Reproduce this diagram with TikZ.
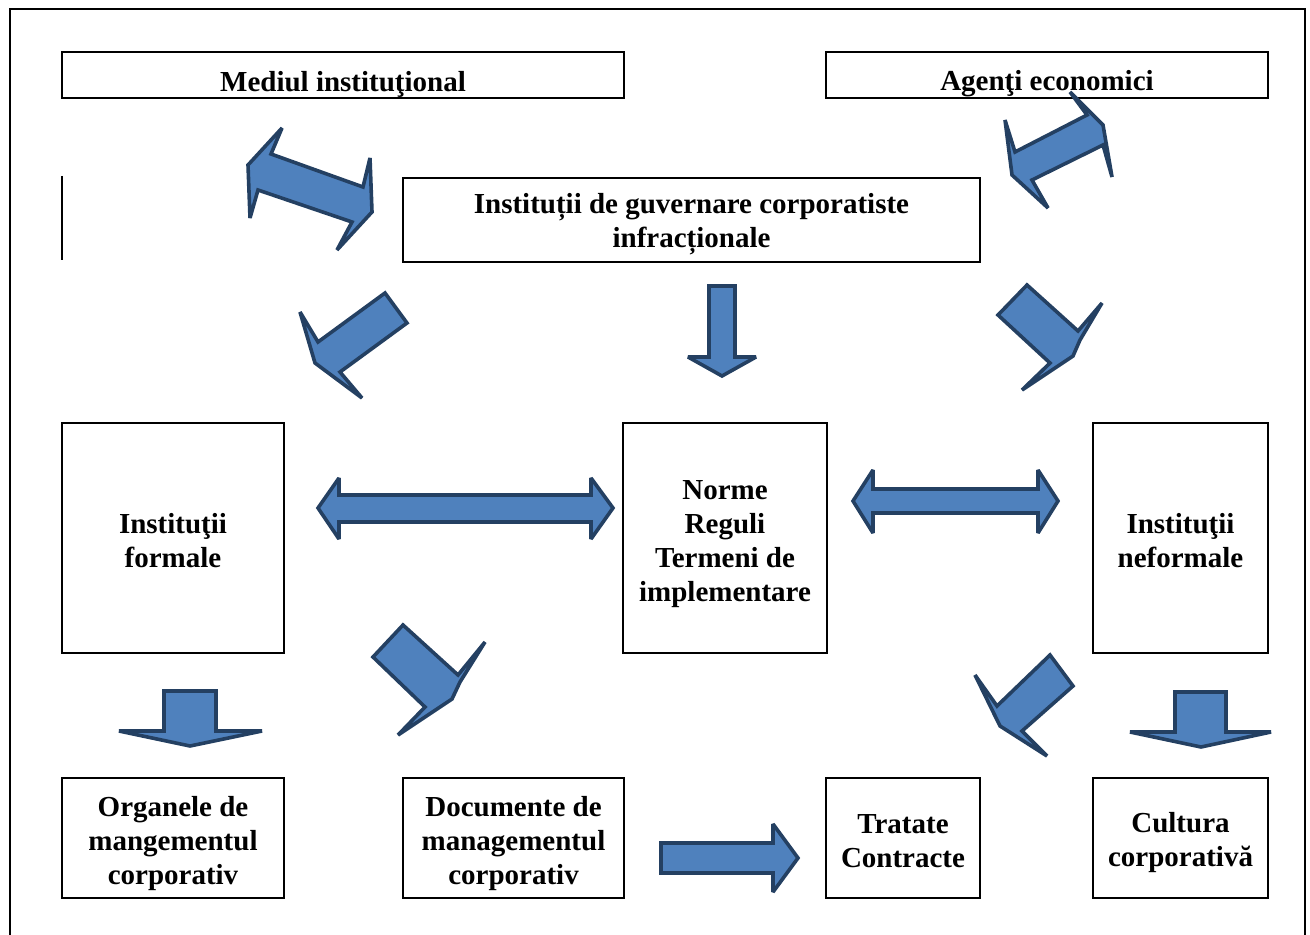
\documentclass[tikz,border=0pt]{standalone}
\usepackage{fontspec}
\setmainfont{Liberation Serif}
\definecolor{arrfill}{RGB}{79,129,189}
\definecolor{arrline}{RGB}{36,64,98}
\newcommand\boxlift[1]{\rule{0pt}{#1pt}}
\begin{document}
\begin{tikzpicture}[x=0.5pt, y=-0.5pt,
	font=\fontsize{14.5}{16.9}\selectfont\bfseries,
	box/.style 2 args={draw, line width=1pt, inner sep=0pt, outer sep=0pt, align=center,
		minimum width=#1pt, minimum height=#2pt},
	blk/.style={fill=arrfill, draw=arrline, line width=1.8pt, line join=miter, miter limit=3}]
	\useasboundingbox (0,0) rectangle (1310,935);
	\draw[line width=1pt] (10,9) rectangle (1305,960);
	\draw[line width=1pt] (62,176) -- (62,260);
	% boxes
	\node[box={281}{23}] (mediu) at (343,75) {\boxlift{19.2}Mediul instituţional};
	\node[box={221}{23}] (agenti) at (1047,75) {\boxlift{19.2}Agenţi economici};
	\node[box={288.5}{42}] (guvern) at (691.5,220) {\boxlift{14.4}Instituții de guvernare corporatiste\\infracționale};
	\node[box={111}{115}] (formale) at (173,538) {\boxlift{12.4}Instituţii\\formale};
	\node[box={102}{115}] (norme) at (725,538) {\boxlift{15.6}Norme\\Reguli\\Termeni de\\implementare};
	\node[box={87.5}{115}] (neformale) at (1180.5,538) {\boxlift{12.4}Instituţii\\neformale};
	\node[box={111}{60}] (organe) at (173,838) {\boxlift{15.4}Organele de\\mangementul\\corporativ};
	\node[box={110.5}{60}] (docum) at (513.5,838) {\boxlift{15.4}Documente de\\managementul\\corporativ};
	\node[box={77}{60}] (tratate) at (903,838) {\boxlift{12.9}Tratate\\Contracte};
	\node[box={87.5}{60}] (cultura) at (1180.5,838) {\boxlift{14.9}Cultura\\corporativă};
	% block arrows
	\draw[blk] (248,165) -- (282,128) -- (271,154) -- (363,187) -- (370,158) -- (372,212) -- (337,250) -- (352,222) -- (258,190) -- (250,218) -- cycle;
	\draw[blk] (1005,120) -- (1015,152) -- (1087,115) -- (1070,92) -- (1103,125) -- (1112,177) -- (1103,145) -- (1032,180) -- (1048,208) -- (1012,175) -- cycle;
	\draw[blk] (300,312) -- (315,363) -- (362,398) -- (340,372) -- (407,323) -- (385,293) -- (318,342) -- cycle;
	\draw[blk] (709,286) -- (735,286) -- (735,357) -- (756,357) -- (722,376) -- (688,357) -- (709,357) -- cycle;
	\draw[blk] (1027,285) -- (1078,331) -- (1102,303) -- (1080,340) -- (1073,356) -- (1022,390) -- (1050,363) -- (998,315) -- cycle;
	\draw[blk] (318,508) -- (339,478) -- (339,495) -- (591,495) -- (591,478) -- (613,508) -- (591,539) -- (591,522) -- (339,522) -- (339,539) -- cycle;
	\draw[blk] (853,501) -- (873,470) -- (873,489) -- (1038,489) -- (1038,470) -- (1058,501) -- (1038,533) -- (1038,513) -- (873,513) -- (873,533) -- cycle;
	\draw[blk] (403,625) -- (458,675) -- (485,642) -- (460,682) -- (452,699) -- (398,735) -- (425,707) -- (373,657) -- cycle;
	\draw[blk] (975,675) -- (1000,726) -- (1047,756) -- (1022,731) -- (1073,686) -- (1050,655) -- (997,706) -- cycle;
	\draw[blk] (164,691) -- (216,691) -- (216,731) -- (262,731) -- (190,746) -- (119,731) -- (164,731) -- cycle;
	\draw[blk] (1175,692) -- (1226,692) -- (1226,732) -- (1271,732) -- (1201,747) -- (1130,732) -- (1175,732) -- cycle;
	\draw[blk] (661,843) -- (773,843) -- (773,824) -- (798,858) -- (773,892) -- (773,873) -- (661,873) -- cycle;
\end{tikzpicture}
\end{document}
